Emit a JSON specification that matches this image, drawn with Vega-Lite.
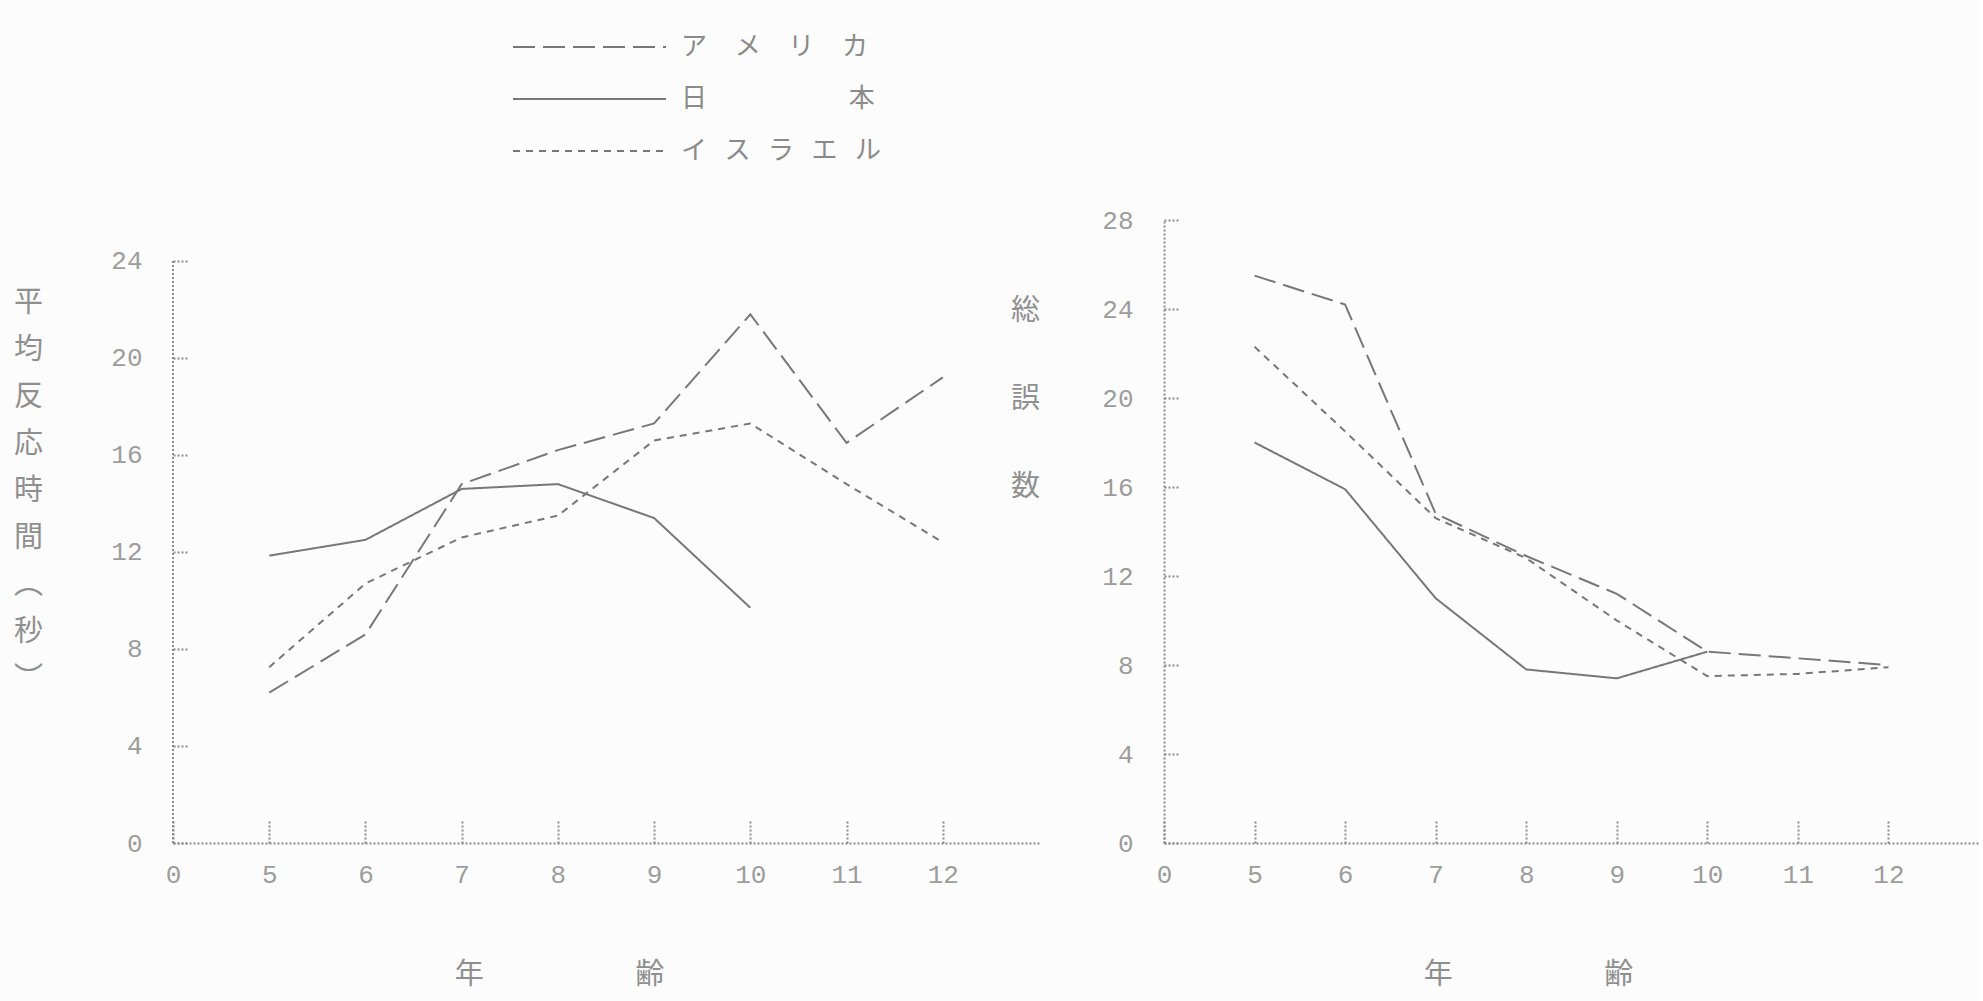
{
  "$schema": "https://vega.github.io/schema/vega-lite/v6.json",
  "background": "#fcfcfc",
  "padding": {"left": 13, "top": 34, "right": 0, "bottom": 12},
  "bounds": "flush",
  "spacing": 125,
  "config": {
    "view": {"stroke": null},
    "axis": {
      "grid": false,
      "domainColor": "#8a8a8a", "domainDash": [2, 2], "domainWidth": 2,
      "tickColor": "#8a8a8a", "tickDash": [2, 2], "tickWidth": 2,
      "labelColor": "#9c9c9c", "labelFont": "Liberation Mono", "labelFontSize": 26,
      "titleColor": "#8f8f8f", "titleFont": "Noto Sans CJK JP", "titleFontSize": 29, "titleFontWeight": "normal"
    },
    "legend": {
      "orient": "none", "legendX": 403.5, "legendY": -186, "padding": 0,
      "symbolType": "M-6.375,0H6.375", "symbolSize": 576, "symbolStrokeWidth": 2,
      "symbolStrokeColor": "#777777", "symbolFillColor": "transparent",
      "labelFont": "Noto Sans CJK JP", "labelFontSize": 26, "labelColor": "#8a8a8a",
      "labelOffset": 78.5, "labelLimit": 0, "rowPadding": 26, "title": null
    }
  },
  "datasets": {
    "rt": [
      {"country": "アメリカ", "age": 5, "value": 6.2},
      {"country": "アメリカ", "age": 6, "value": 8.6},
      {"country": "アメリカ", "age": 7, "value": 14.8},
      {"country": "アメリカ", "age": 8, "value": 16.2},
      {"country": "アメリカ", "age": 9, "value": 17.3},
      {"country": "アメリカ", "age": 10, "value": 21.8},
      {"country": "アメリカ", "age": 11, "value": 16.5},
      {"country": "アメリカ", "age": 12, "value": 19.2},
      {"country": "日本", "age": 5, "value": 11.85},
      {"country": "日本", "age": 6, "value": 12.5},
      {"country": "日本", "age": 7, "value": 14.6},
      {"country": "日本", "age": 8, "value": 14.8},
      {"country": "日本", "age": 9, "value": 13.4},
      {"country": "日本", "age": 10, "value": 9.7},
      {"country": "イスラエル", "age": 5, "value": 7.25},
      {"country": "イスラエル", "age": 6, "value": 10.7},
      {"country": "イスラエル", "age": 7, "value": 12.6},
      {"country": "イスラエル", "age": 8, "value": 13.5},
      {"country": "イスラエル", "age": 9, "value": 16.6},
      {"country": "イスラエル", "age": 10, "value": 17.3},
      {"country": "イスラエル", "age": 11, "value": 14.8},
      {"country": "イスラエル", "age": 12, "value": 12.4}
    ],
    "err": [
      {"country": "アメリカ", "age": 5, "value": 25.5},
      {"country": "アメリカ", "age": 6, "value": 24.2},
      {"country": "アメリカ", "age": 7, "value": 14.8},
      {"country": "アメリカ", "age": 8, "value": 12.9},
      {"country": "アメリカ", "age": 9, "value": 11.2},
      {"country": "アメリカ", "age": 10, "value": 8.6},
      {"country": "アメリカ", "age": 11, "value": 8.3},
      {"country": "アメリカ", "age": 12, "value": 8.0},
      {"country": "日本", "age": 5, "value": 18.0},
      {"country": "日本", "age": 6, "value": 15.9},
      {"country": "日本", "age": 7, "value": 11.0},
      {"country": "日本", "age": 8, "value": 7.8},
      {"country": "日本", "age": 9, "value": 7.4},
      {"country": "日本", "age": 10, "value": 8.6},
      {"country": "イスラエル", "age": 5, "value": 22.3},
      {"country": "イスラエル", "age": 6, "value": 18.5},
      {"country": "イスラエル", "age": 7, "value": 14.6},
      {"country": "イスラエル", "age": 8, "value": 12.8},
      {"country": "イスラエル", "age": 9, "value": 10.0},
      {"country": "イスラエル", "age": 10, "value": 7.5},
      {"country": "イスラエル", "age": 11, "value": 7.6},
      {"country": "イスラエル", "age": 12, "value": 7.9}
    ]
  },
  "hconcat": [
    {
      "width": 866,
      "height": 623,
      "layer": [
        {
          "data": {"name": "rt"},
          "mark": {"type": "line", "color": "#777777", "strokeWidth": 2},
          "encoding": {
            "x": {
              "field": "age", "type": "ordinal",
              "scale": {"type": "point", "domain": [0, 5, 6, 7, 8, 9, 10, 11, 12, 13], "padding": 0},
              "axis": {
                "values": [0, 5, 6, 7, 8, 9, 10, 11, 12], "labelAngle": 0,
                "tickSize": -24, "labelPadding": 42, "labelBaseline": "top",
                "title": "年　　　　　  齢", "titleX": 386, "titleY": 131, "titleBaseline": "middle", "titleAnchor": null
              }
            },
            "y": {
              "field": "value", "type": "quantitative",
              "scale": {"domain": [0, 25.69], "nice": false, "zero": true},
              "axis": {
                "values": [0, 4, 8, 12, 16, 20, 24], "domain": false,
                "tickSize": -14, "labelPadding": 45,
                "title": ["平", "均", "反", "応", "時", "間", "︵", "秒", "︶"],
                "titleAngle": 0, "titleAlign": "center", "titleBaseline": "top",
                "titleX": -145, "titleY": 68, "titleLineHeight": 47
              }
            },
            "strokeDash": {
              "field": "country", "type": "nominal",
              "scale": {"domain": ["アメリカ", "日本", "イスラエル"], "range": [[22, 8], [1, 0], [7, 6]]},
              "legend": {
                "labelExpr": "datum.label == 'アメリカ' ? 'ア\u3000\u200aメ\u3000\u200aリ\u3000\u200aカ' : (datum.label == '日本' ? '日\u3000\u3000\u3000\u3000\u3000\u00a0\u00a0本' : 'イ\u00a0\u00a0\u00a0ス\u00a0\u00a0\u00a0ラ\u00a0\u00a0\u00a0エ\u00a0\u00a0\u00a0ル')"
              }
            }
          }
        },
        {
          "data": {"values": [{}]},
          "mark": {"type": "rule", "color": "#8a8a8a", "strokeWidth": 2, "strokeDash": [2, 2]},
          "encoding": {
            "x": {"datum": 0, "type": "ordinal"},
            "y": {"datum": 0, "type": "quantitative"},
            "y2": {"datum": 24}
          }
        }
      ]
    },
    {
      "width": 815,
      "height": 623,
      "data": {"name": "err"},
      "mark": {"type": "line", "color": "#777777", "strokeWidth": 2},
      "encoding": {
        "x": {
          "field": "age", "type": "ordinal",
          "scale": {"type": "point", "domain": [0, 5, 6, 7, 8, 9, 10, 11, 12, 13], "padding": 0},
          "axis": {
            "values": [0, 5, 6, 7, 8, 9, 10, 11, 12], "labelAngle": 0,
            "tickSize": -24, "labelPadding": 42, "labelBaseline": "top",
            "title": "年　　　　　  齢", "titleX": 364, "titleY": 131, "titleBaseline": "middle", "titleAnchor": null
          }
        },
        "y": {
          "field": "value", "type": "quantitative",
          "scale": {"domain": [0, 28], "nice": false},
          "axis": {
            "values": [0, 4, 8, 12, 16, 20, 24, 28],
            "tickSize": -14, "labelPadding": 45,
            "title": ["総", "誤", "数"],
            "titleAngle": 0, "titleAlign": "center", "titleBaseline": "top",
            "titleX": -139, "titleY": 76, "titleLineHeight": 88
          }
        },
        "strokeDash": {
          "field": "country", "type": "nominal",
          "scale": {"domain": ["アメリカ", "日本", "イスラエル"], "range": [[22, 8], [1, 0], [7, 6]]},
          "legend": {
            "labelExpr": "datum.label == 'アメリカ' ? 'ア\u3000\u200aメ\u3000\u200aリ\u3000\u200aカ' : (datum.label == '日本' ? '日\u3000\u3000\u3000\u3000\u3000\u00a0\u00a0本' : 'イ\u00a0\u00a0\u00a0ス\u00a0\u00a0\u00a0ラ\u00a0\u00a0\u00a0エ\u00a0\u00a0\u00a0ル')"
          }
        }
      }
    }
  ]
}
